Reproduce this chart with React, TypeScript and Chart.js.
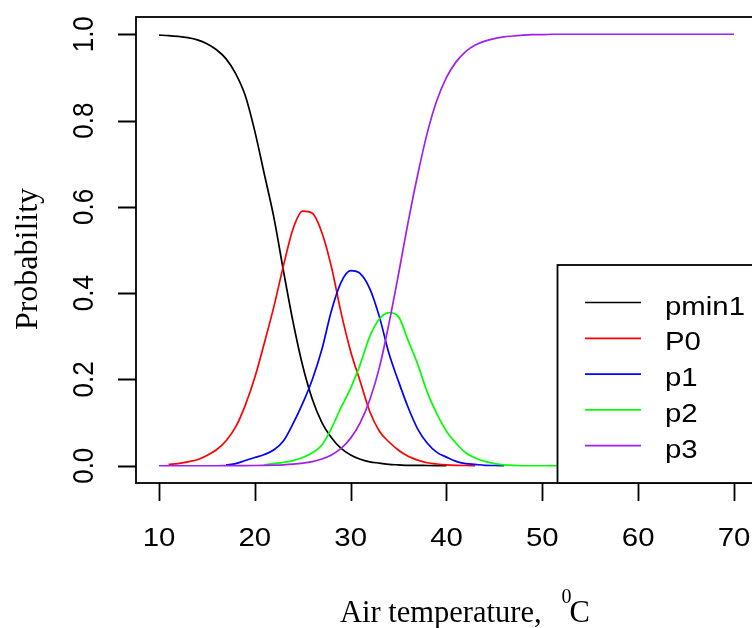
import React, { useEffect, useRef } from "react";
import { Chart, registerables } from "chart.js";

Chart.register(...registerables);

// ---------- data ----------
const temperature = [
  10, 11, 12, 13, 14, 15, 16, 17, 18, 19, 20, 21, 22, 23, 24, 25, 26, 27, 28, 29,
  30, 31, 32, 33, 34, 35, 36, 37, 38, 39, 40, 41, 42, 43, 44, 45, 46, 47, 48, 49,
  50, 51, 52, 53, 54, 55, 56, 57, 58, 59, 60, 61, 62, 63, 64, 65, 66, 67, 68, 69, 70,
];

const pmin1 = [
  0.998, 0.997, 0.995, 0.992, 0.987, 0.978, 0.964, 0.943, 0.909, 0.858,
  0.775, 0.675, 0.574, 0.45, 0.332, 0.231, 0.154, 0.1, 0.065, 0.04,
  0.025, 0.015, 0.009, 0.006, 0.003, 0.002, 0.001, 0.001, 0.0005, 0.0003,
  0.0002,
  null, null, null, null, null, null, null, null, null, null,
  null, null, null, null, null, null, null, null, null, null,
  null, null, null, null, null, null, null, null, null, null,
];

const P0 = [
  null,
  0.003, 0.005, 0.009, 0.014, 0.024, 0.037, 0.058, 0.09, 0.14,
  0.205, 0.285, 0.37, 0.465, 0.55, 0.59, 0.585, 0.54, 0.46, 0.355,
  0.265, 0.195, 0.125, 0.08, 0.055, 0.036, 0.022, 0.013, 0.007, 0.004,
  0.002, 0.001, 0.0005, 0.0002,
  null, null, null, null, null, null, null, null, null, null,
  null, null, null, null, null, null, null, null, null, null,
  null, null, null, null, null, null, null,
];

const p1 = [
  null, null, null, null, null, null, null,
  0.002, 0.005, 0.012,
  0.019, 0.026, 0.037, 0.058, 0.098, 0.145, 0.2, 0.27, 0.36, 0.425,
  0.452, 0.445, 0.41, 0.345, 0.26, 0.195, 0.135, 0.085, 0.052, 0.031,
  0.02, 0.01, 0.005, 0.003, 0.001, 0.0005, 0.0002,
  null, null, null, null, null, null, null, null, null, null,
  null, null, null, null, null, null, null, null, null, null,
  null, null, null, null,
];

const p2 = [
  null, null, null, null, null, null, null, null, null, null,
  null,
  0.002, 0.005, 0.008, 0.012, 0.019, 0.03, 0.048, 0.087, 0.135,
  0.18, 0.235, 0.3, 0.34, 0.355, 0.345, 0.29, 0.235, 0.17, 0.12,
  0.08, 0.052, 0.03, 0.018, 0.01, 0.005, 0.002, 0.001,
  0, 0, 0, 0, 0, 0, 0, 0, 0, 0,
  0, 0, 0, 0, 0, 0, 0, 0, 0, 0,
  0, 0, 0,
];

const p3 = [
  0, 0, 0, 0, 0, 0, 0, 0.0001, 0.0002, 0.0003,
  0.0005, 0.0009, 0.0014, 0.0022, 0.0037, 0.006, 0.0096, 0.0155, 0.025, 0.04,
  0.064, 0.1, 0.153, 0.228, 0.33, 0.445, 0.565, 0.675, 0.772, 0.847,
  0.9, 0.936, 0.96, 0.975, 0.984, 0.99, 0.994, 0.996, 0.998, 0.999,
  0.999,
  1, 1, 1, 1, 1, 1, 1, 1, 1, 1,
  1, 1, 1, 1, 1, 1, 1, 1, 1, 1,
];

const seriesNames = ["pmin1", "P0", "p1", "p2", "p3"];
const seriesColors = ["#000000", "#ff0000", "#0000ff", "#00ff00", "#a020f0"];

const xTicks = [10, 20, 30, 40, 50, 60, 70];
const xTickLabels = ["10", "20", "30", "40", "50", "60", "70"];
const yTicks = [0, 0.2, 0.4, 0.6, 0.8, 1.0];
const yTickLabels = ["0.0", "0.2", "0.4", "0.6", "0.8", "1.0"];

const xTitle = "Air temperature,";
const xTitleSup = "0";
const xTitleUnit = "C";
const yTitle = "Probability";

// ---------- layout ----------
const W = 780;
const H = 628;
const AREA = { left: 136, top: 17, right: 757, bottom: 483 };
const SANS = '"Liberation Sans", Arial, sans-serif';
const SERIF = '"Liberation Serif", "Times New Roman", serif';
const SX = 1.13; // horizontal stretch of sans text, as in the reference

function drawText(
  ctx: CanvasRenderingContext2D,
  text: string,
  x: number,
  y: number,
  font: string,
  align: CanvasTextAlign,
  rotate: boolean,
  stretch: number
) {
  ctx.save();
  ctx.translate(x, y);
  if (rotate) {
    ctx.rotate(-Math.PI / 2);
    ctx.scale(1, stretch);
  } else {
    ctx.scale(stretch, 1);
  }
  ctx.font = font;
  ctx.textAlign = align;
  ctx.textBaseline = "alphabetic";
  ctx.fillStyle = "#000";
  ctx.fillText(text, 0, 0);
  ctx.restore();
}

const rPlot = {
  id: "rPlot",
  afterDraw(chart: any) {
    const ctx: CanvasRenderingContext2D = chart.ctx;
    const area = chart.chartArea;
    const xs = chart.scales.x;
    const ys = chart.scales.y;
    ctx.save();
    ctx.strokeStyle = "#000";
    ctx.lineWidth = 1.8;
    // box
    ctx.strokeRect(area.left, area.top, area.right - area.left, area.bottom - area.top);

    // ticks
    const tickLen = 18;
    ctx.beginPath();
    xTicks.forEach((v) => {
      const px = Math.round(xs.getPixelForValue(v)) + 0.5;
      ctx.moveTo(px, area.bottom);
      ctx.lineTo(px, area.bottom + tickLen);
    });
    yTicks.forEach((v) => {
      const py = Math.round(ys.getPixelForValue(v)) + 0.5;
      ctx.moveTo(area.left, py);
      ctx.lineTo(area.left - tickLen, py);
    });
    ctx.stroke();

    const tickFont = `26px ${SANS}`;
    xTicks.forEach((v, i) => {
      drawText(ctx, xTickLabels[i], xs.getPixelForValue(v), 546, tickFont, "center", false, SX);
    });
    yTicks.forEach((v, i) => {
      drawText(ctx, yTickLabels[i], 92.5, ys.getPixelForValue(v), tickFont, "center", true, SX);
    });

    // titles
    ctx.fillStyle = "#000";
    ctx.textBaseline = "alphabetic";
    ctx.textAlign = "left";
    ctx.font = `30.5px ${SERIF}`;
    ctx.fillText(xTitle, 340, 621.5);
    ctx.font = `20px ${SERIF}`;
    ctx.fillText(xTitleSup, 561.5, 603);
    ctx.font = `30.5px ${SERIF}`;
    ctx.fillText(xTitleUnit, 569.5, 621.5);

    ctx.save();
    ctx.translate(36.5, 259);
    ctx.rotate(-Math.PI / 2);
    ctx.font = `32px ${SERIF}`;
    ctx.textAlign = "center";
    ctx.fillText(yTitle, 0, 0);
    ctx.restore();

    // legend
    const lx = 557.5;
    const ly = 265;
    ctx.fillStyle = "#fff";
    ctx.fillRect(lx, ly, W - lx + 10, area.bottom - ly);
    ctx.lineWidth = 1.8;
    ctx.strokeStyle = "#000";
    ctx.strokeRect(lx, ly, W - lx + 10, area.bottom - ly);
    chart.data.datasets.forEach((ds: any, i: number) => {
      const rowY = 302.5 + i * 35.8;
      ctx.strokeStyle = ds.borderColor;
      ctx.lineWidth = 1.7;
      ctx.beginPath();
      ctx.moveTo(585, rowY);
      ctx.lineTo(641, rowY);
      ctx.stroke();
      drawText(ctx, ds.label, 665, rowY + 12, `26px ${SANS}`, "left", false, SX);
    });
    ctx.restore();
  },
};

export default function App() {
  const ref = useRef<HTMLCanvasElement>(null);

  useEffect(() => {
    if (!ref.current) return;
    const series = [pmin1, P0, p1, p2, p3];
    const datasets = series.map((vals, i) => ({
      label: seriesNames[i],
      data: temperature.map((t, j) => ({ x: t, y: vals[j] })),
      borderColor: seriesColors[i],
      backgroundColor: seriesColors[i],
      borderWidth: 1.7,
      pointRadius: 0,
      pointHoverRadius: 0,
      cubicInterpolationMode: "monotone",
      fill: false,
      spanGaps: false,
      order: series.length - i,
    }));

    const chart = new Chart(ref.current, {
      type: "line",
      data: { datasets } as any,
      options: {
        animation: false,
        responsive: false,
        devicePixelRatio: 1,
        events: [],
        layout: {
          padding: {
            left: AREA.left,
            top: AREA.top,
            right: W - AREA.right,
            bottom: H - AREA.bottom,
          },
        },
        scales: {
          x: { type: "linear", min: 7.6, max: 72.4, display: false },
          y: { type: "linear", min: -0.04, max: 1.04, display: false },
        },
        plugins: {
          legend: { display: false },
          tooltip: { enabled: false },
        },
      },
      plugins: [rPlot],
    } as any);

    return () => chart.destroy();
  }, []);

  return (
    <div
      style={{
        position: "fixed",
        left: 0,
        top: 0,
        width: 752,
        height: 628,
        overflow: "hidden",
        background: "#fff",
      }}
    >
      <canvas ref={ref} width={W} height={H} style={{ display: "block", width: W, height: H }} />
    </div>
  );
}
